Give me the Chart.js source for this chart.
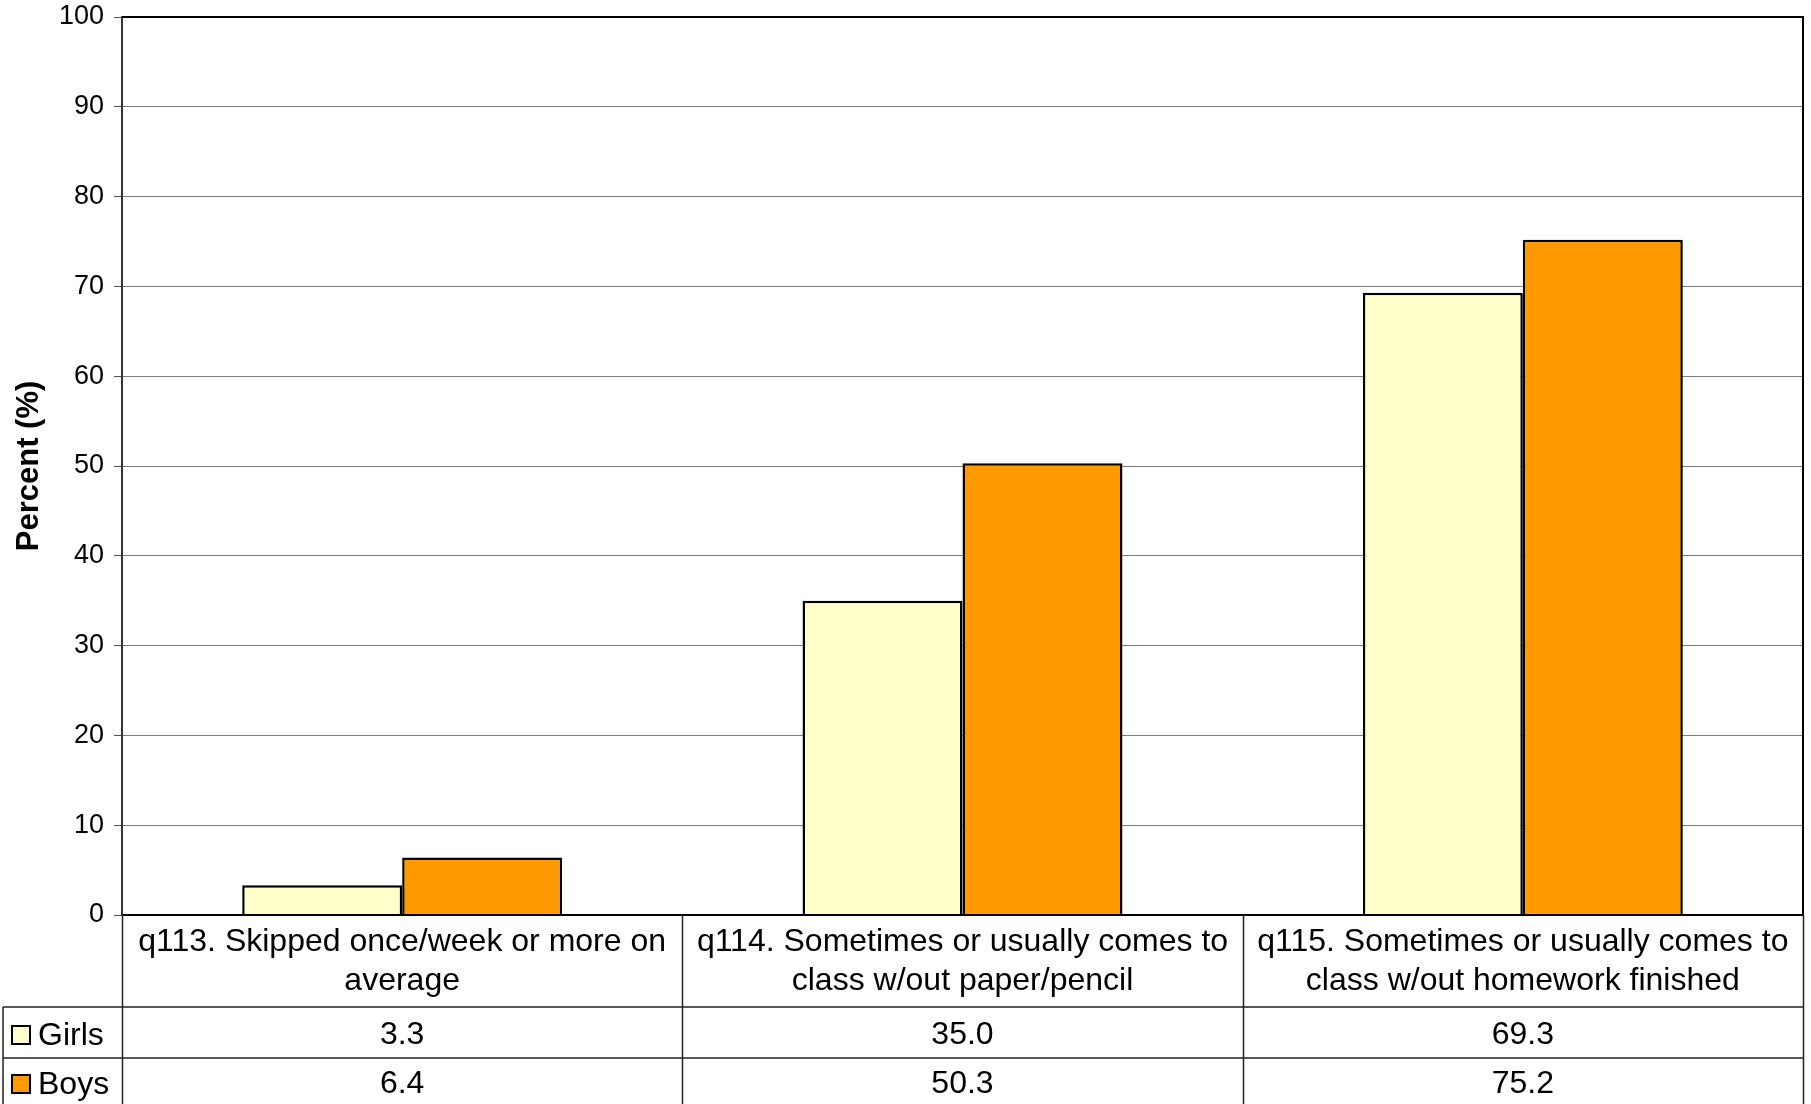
<!DOCTYPE html>
<html lang="en">
<head>
    <meta charset="UTF-8">
    <title>Percent by gender</title>
    <script src="https://cdnjs.cloudflare.com/ajax/libs/Chart.js/4.4.1/chart.umd.min.js"></script>
    <style>
        html, body { margin: 0; padding: 0; background: #fff; }
        #wrap { width: 1811px; height: 1104px; position: relative; }
    </style>
</head>
<body>
    <div id="wrap"><canvas id="chart"></canvas></div>

    <script>
        // Data
        const categories = [
            ['q113. Skipped once/week or more on', 'average'],
            ['q114. Sometimes or usually comes to', 'class w/out paper/pencil'],
            ['q115. Sometimes or usually comes to', 'class w/out homework finished']
        ];
        const seriesNames = ['Girls', 'Boys'];
        const girls = [3.3, 35.0, 69.3];
        const boys = [6.4, 50.3, 75.2];
        const yTicks = [0, 10, 20, 30, 40, 50, 60, 70, 80, 90, 100];

        const FONT = '"Liberation Sans", Arial, sans-serif';
        const colors = ['#FFFFCC', '#FF9900'];

        // Draws the plot border and the data table under the plot
        const tablePlugin = {
            id: 'dataTable',
            afterDraw(chart) {
                const ctx = chart.ctx;
                const area = chart.chartArea;
                const n = categories.length;
                const colW = (area.right - area.left) / n;
                const rowTop = area.bottom;
                const rowCat = 1007;
                const rowGirls = 1058;
                const rowEnd = chart.height;
                const tableLeft = 3;

                ctx.save();
                // plot border
                ctx.strokeStyle = '#000';
                ctx.lineWidth = 2;
                ctx.beginPath();
                ctx.moveTo(area.left, area.top);
                ctx.lineTo(area.right, area.top);
                ctx.lineTo(area.right, area.bottom);
                ctx.lineTo(area.left, area.bottom);
                ctx.stroke();

                // table lines
                ctx.strokeStyle = '#222';
                ctx.lineWidth = 1.5;
                ctx.beginPath();
                for (let i = 0; i <= n; i++) {
                    const x = Math.round(area.left + i * colW) + 0.5;
                    ctx.moveTo(x, rowTop);
                    ctx.lineTo(x, rowEnd);
                }
                ctx.moveTo(tableLeft, rowCat);
                ctx.lineTo(tableLeft, rowEnd);
                ctx.moveTo(tableLeft, rowCat);
                ctx.lineTo(area.right, rowCat);
                ctx.moveTo(tableLeft, rowGirls);
                ctx.lineTo(area.right, rowGirls);
                ctx.stroke();

                // category labels and values
                ctx.fillStyle = '#000';
                ctx.font = '32px ' + FONT;
                ctx.textAlign = 'center';
                ctx.textBaseline = 'middle';
                const xs = chart.scales.x;
                categories.forEach((lines, i) => {
                    const cx = xs.getPixelForValue(i);
                    lines.forEach((line, j) => {
                        ctx.fillText(line, cx, 942 + j * 39);
                    });
                    ctx.fillText(girls[i].toFixed(1), cx, 1035);
                    ctx.fillText(boys[i].toFixed(1), cx, 1084);
                });

                // legend keys
                const rowsY = [1035, 1084];
                seriesNames.forEach((name, k) => {
                    ctx.fillStyle = colors[k];
                    ctx.fillRect(12, rowsY[k] - 9, 18, 18);
                    ctx.strokeStyle = '#000';
                    ctx.lineWidth = 2;
                    ctx.strokeRect(12, rowsY[k] - 9, 18, 18);
                    ctx.fillStyle = '#000';
                    ctx.textAlign = 'left';
                    ctx.fillText(name, 38, rowsY[k] + 1);
                });
                ctx.restore();
            }
        };

        new Chart(document.getElementById('chart'), {
            type: 'bar',
            data: {
                labels: categories,
                datasets: [
                    {
                        label: seriesNames[0],
                        data: girls,
                        backgroundColor: colors[0],
                        borderColor: '#000',
                        borderWidth: 2.5
                    },
                    {
                        label: seriesNames[1],
                        data: boys,
                        backgroundColor: colors[1],
                        borderColor: '#000',
                        borderWidth: 2.5
                    }
                ]
            },
            options: {
                responsive: true,
                maintainAspectRatio: false,
                animation: false,
                layout: {
                    padding: { left: 0, top: 17, right: 8, bottom: 189 }
                },
                datasets: {
                    bar: { categoryPercentage: 0.571, barPercentage: 1.0 }
                },
                plugins: {
                    legend: { display: false },
                    tooltip: { enabled: false }
                },
                scales: {
                    x: {
                        display: false
                    },
                    y: {
                        min: 0,
                        max: 100,
                        afterFit(scale) {
                            scale.width = 122;
                            scale.paddingTop = 0;
                            scale.paddingBottom = 0;
                        },
                        afterBuildTicks(scale) {
                            scale.ticks = yTicks.map(v => ({ value: v }));
                        },
                        border: { display: true, color: '#333', width: 2 },
                        grid: {
                            color: '#7a7a7a',
                            lineWidth: 1,
                            drawTicks: true,
                            tickLength: 8,
                            tickColor: '#555'
                        },
                        ticks: {
                            padding: 10,
                            color: '#000',
                            font: { family: FONT, size: 27 }
                        },
                        title: {
                            display: true,
                            text: 'Percent (%)',
                            color: '#000',
                            padding: { top: 11, bottom: 0 },
                            font: { family: FONT, size: 31, weight: 'bold' }
                        }
                    }
                }
            },
            plugins: [tablePlugin]
        });
    </script>
</body>
</html>
